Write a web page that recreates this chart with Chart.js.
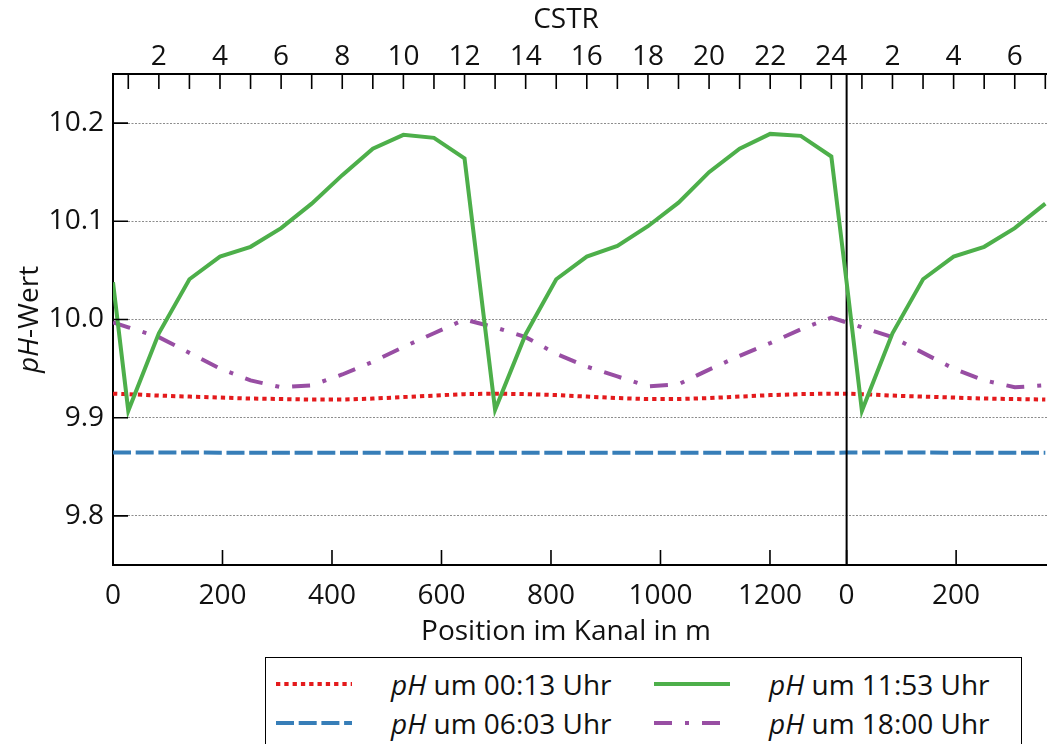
<!DOCTYPE html>
<html lang="de">
<head>
<meta charset="utf-8">
<title>pH-Wert im Kanal</title>
<script src="https://cdn.jsdelivr.net/npm/chart.js@4.4.1/dist/chart.umd.min.js"></script>
<style>
  html, body { margin: 0; padding: 0; background: #fff; }
  #wrap { position: relative; width: 1047px; height: 744px; overflow: hidden; }
  #chart { display: block; }
  #legend {
    position: absolute; left: 265px; top: 657px; width: 757px; height: 120px;
    border: 1.5px solid #000; box-sizing: border-box; background: #fff;
    font-family: 'Open Sans', sans-serif; font-size: 28px; color: #111;
  }
  .lg-item { position: absolute; height: 36px; display: flex; align-items: center; white-space: nowrap; }
  .lg-item svg { display: block; }
  .lg-item span { position: absolute; left: 115px; line-height: 36px; }
</style>
</head>
<body>
<div id="wrap">
  <canvas id="chart" width="1047" height="744"></canvas>
  <div id="legend"></div>
</div>
<script>
// Kanal (Schleife) aus 24 CSTR, Länge in m
const CHANNEL_LENGTH = 1340;
const CSTR_COUNT = 24;
const cstrNumbers = [1, 2, 3, 4, 5, 6, 7, 8, 9, 10, 11, 12, 13, 14, 15, 16, 17, 18, 19, 20, 21, 22, 23, 24];
// nach dem Umlauf beginnt der Kanal wieder bei CSTR 1
const secondPassNumbers = [1, 2, 3, 4, 5, 6, 7];

// Achsenbeschriftungen
const xTickValues = [0, 200, 400, 600, 800, 1000, 1200, 1340, 1540];
const xTickLabels = ['0', '200', '400', '600', '800', '1000', '1200', '0', '200'];
const yTickValues = [9.8, 9.9, 10.0, 10.1, 10.2];
const xTitle = 'Position im Kanal in m';
const xTopTitle = 'CSTR';

// pH-Werte: erster Wert am Einlauf (0 m), danach CSTR 1 ... 24
const ph0013 = [9.9245, 9.924, 9.9225, 9.9215, 9.9205, 9.9195, 9.919, 9.9185, 9.9185, 9.9195, 9.921, 9.9225, 9.924,
                9.9245, 9.924, 9.923, 9.9215, 9.920, 9.919, 9.919, 9.920, 9.9215, 9.923, 9.924, 9.9245];
const ph0603 = [9.8645, 9.8645, 9.8645, 9.8645, 9.8644, 9.8644, 9.8643, 9.8643, 9.8643, 9.8643, 9.8643, 9.8643, 9.8643,
                9.8643, 9.8643, 9.8643, 9.8643, 9.8643, 9.8643, 9.8643, 9.8643, 9.8643, 9.8643, 9.8643, 9.8643];
const ph1153 = [10.038, 9.907, 9.986, 10.041, 10.064, 10.074, 10.093, 10.118, 10.147, 10.174, 10.188, 10.185, 10.164,
                9.908, 9.985, 10.041, 10.064, 10.075, 10.095, 10.119, 10.150, 10.174, 10.189, 10.187, 10.166];
const ph1800 = [9.997, 9.992, 9.982, 9.966, 9.950, 9.938, 9.931, 9.933, 9.944, 9.957, 9.972, 9.986, 10.000,
                9.992, 9.982, 9.965, 9.952, 9.942, 9.932, 9.934, 9.949, 9.963, 9.976, 9.990, 10.002];

const seriesTimes = ['00:13', '06:03', '11:53', '18:00'];

const FONT = "'Open Sans', sans-serif";
const FONT_SIZE = 28;
const TEXT_COLOR = '#111';

const cstrLength = CHANNEL_LENGTH / CSTR_COUNT;
const cstrPosition = n => (n - 0.5) * cstrLength;

// Punkte entlang des Kanals: Einlauf, CSTR 1-24, zweiter Umlauf bis CSTR 7
function channelPoints(values) {
  const pts = [{ x: 0, y: values[0] }];
  cstrNumbers.forEach(n => pts.push({ x: cstrPosition(n), y: values[n] }));
  pts.push({ x: CHANNEL_LENGTH, y: values[0] });
  secondPassNumbers.forEach(n => pts.push({ x: CHANNEL_LENGTH + cstrPosition(n), y: values[n] }));
  return pts;
}

const topTickValues = cstrNumbers.map(cstrPosition)
  .concat(secondPassNumbers.map(n => CHANNEL_LENGTH + cstrPosition(n)));
const topTickLabels = cstrNumbers.concat(secondPassNumbers).map(n => (n % 2 === 0 ? String(n) : ''));

const X_MIN = 0, X_MAX = 1706, Y_MIN = 9.75, Y_MAX = 10.25;

const styles = [
  { color: '#e41a1c', width: 4, dash: [4.3, 4], order: 3 },
  { color: '#377eb8', width: 4, dash: [18, 4.7], order: 4 },
  { color: '#4daf4a', width: 4, dash: [], order: 0 },
  { color: '#984ea3', width: 4, dash: [18, 13, 4, 13], order: 2 }
];
const seriesValues = [ph0013, ph0603, ph1153, ph1800];

const datasets = seriesValues.map((vals, i) => ({
  label: 'pH um ' + seriesTimes[i] + ' Uhr',
  data: channelPoints(vals),
  borderColor: styles[i].color,
  borderWidth: styles[i].width,
  borderDash: styles[i].dash,
  borderCapStyle: 'butt',
  pointRadius: 0,
  tension: 0,
  fill: false,
  order: styles[i].order
}));

// Trennlinie am Ende des Kanals (Übergang CSTR 24 -> CSTR 1)
datasets.push({
  label: 'Kanalende',
  data: [{ x: CHANNEL_LENGTH, y: Y_MIN }, { x: CHANNEL_LENGTH, y: Y_MAX }],
  borderColor: '#000',
  borderWidth: 2,
  pointRadius: 0,
  fill: false,
  order: 1
});

// nach innen zeigende Teilstriche an allen drei Achsen
const innerTicks = {
  id: 'innerTicks',
  afterDraw(chart) {
    const { ctx, chartArea: a, scales } = chart;
    const L = 15;
    ctx.save();
    ctx.strokeStyle = '#000';
    ctx.lineWidth = 1.6;
    ctx.beginPath();
    scales.x.ticks.forEach(t => {
      const px = scales.x.getPixelForValue(t.value);
      ctx.moveTo(px, a.bottom); ctx.lineTo(px, a.bottom - L);
    });
    scales.xTop.ticks.forEach(t => {
      const px = scales.xTop.getPixelForValue(t.value);
      ctx.moveTo(px, a.top); ctx.lineTo(px, a.top + L);
    });
    scales.y.ticks.forEach(t => {
      const py = scales.y.getPixelForValue(t.value);
      ctx.moveTo(a.left, py); ctx.lineTo(a.left + L, py);
    });
    ctx.stroke();
    ctx.restore();
  }
};

// Achsentitel; der y-Titel mit kursivem Formelzeichen
const axisTitles = {
  id: 'axisTitles',
  afterDraw(chart) {
    const { ctx, chartArea: a } = chart;
    const italic = 'italic ' + FONT_SIZE + 'px ' + FONT;
    const normal = FONT_SIZE + 'px ' + FONT;
    const cx = (a.left + a.right) / 2 - 14;
    ctx.save();
    ctx.fillStyle = TEXT_COLOR;
    ctx.textBaseline = 'middle';
    ctx.textAlign = 'center';
    ctx.font = normal;
    ctx.fillText(xTopTitle, cx, 20);
    ctx.fillText(xTitle, cx, a.bottom + 67);

    ctx.font = italic; const w1 = ctx.measureText('pH').width;
    ctx.font = normal; const w2 = ctx.measureText('-Wert').width;
    ctx.translate(30, (a.top + a.bottom) / 2);
    ctx.rotate(-Math.PI / 2);
    ctx.textAlign = 'left';
    const start = -(w1 + w2) / 2;
    ctx.font = italic; ctx.fillText('pH', start, 0);
    ctx.font = normal; ctx.fillText('-Wert', start + w1, 0);
    ctx.restore();
  }
};

function buildLegend() {
  const box = document.getElementById('legend');
  const order = [0, 2, 1, 3];
  const slots = [[10, 8], [388, 8], [10, 47], [388, 47]];
  order.forEach((si, k) => {
    const st = styles[si];
    const item = document.createElement('div');
    item.className = 'lg-item';
    item.style.left = slots[k][0] + 'px';
    item.style.top = slots[k][1] + 'px';
    const ns = 'http://www.w3.org/2000/svg';
    const svg = document.createElementNS(ns, 'svg');
    svg.setAttribute('width', '78'); svg.setAttribute('height', '36');
    const ln = document.createElementNS(ns, 'line');
    ln.setAttribute('x1', '0'); ln.setAttribute('x2', '76');
    ln.setAttribute('y1', '18'); ln.setAttribute('y2', '18');
    ln.setAttribute('stroke', st.color); ln.setAttribute('stroke-width', st.width);
    if (st.dash.length) ln.setAttribute('stroke-dasharray', st.dash.join(' '));
    svg.appendChild(ln);
    item.appendChild(svg);
    const txt = document.createElement('span');
    const it = document.createElement('i');
    it.textContent = 'pH';
    txt.appendChild(it);
    txt.appendChild(document.createTextNode(' um ' + seriesTimes[si] + ' Uhr'));
    item.appendChild(txt);
    box.appendChild(item);
  });
}

function draw() {
  Chart.defaults.font.family = FONT;
  Chart.defaults.font.size = FONT_SIZE;
  Chart.defaults.color = TEXT_COLOR;

  new Chart(document.getElementById('chart'), {
    type: 'line',
    data: { datasets },
    options: {
      responsive: false,
      animation: false,
      events: [],
      layout: { padding: { left: 0, right: 0, top: 0, bottom: 91 } },
      plugins: { legend: { display: false }, tooltip: { enabled: false } },
      scales: {
        x: {
          type: 'linear', position: 'bottom', min: X_MIN, max: X_MAX,
          grid: { display: false, drawTicks: false },
          border: { display: true, color: '#000', width: 2 },
          afterBuildTicks: s => { s.ticks = xTickValues.map(v => ({ value: v })); },
          afterFit: s => { s.height = 88; },
          ticks: {
            autoSkip: false, maxRotation: 0, padding: 14,
            callback: (v, i) => xTickLabels[i]
          },
          title: { display: false }
        },
        xTop: {
          type: 'linear', position: 'top', min: X_MIN, max: X_MAX,
          grid: { display: false, drawTicks: false },
          border: { display: true, color: '#000', width: 2 },
          afterBuildTicks: s => { s.ticks = topTickValues.map(v => ({ value: v })); },
          afterFit: s => { s.height = 74; },
          ticks: {
            autoSkip: false, maxRotation: 0, padding: 0,
            callback: (v, i) => topTickLabels[i]
          },
          title: { display: false }
        },
        y: {
          type: 'linear', position: 'left', min: Y_MIN, max: Y_MAX,
          grid: { display: true, drawTicks: false, color: '#8c8c8c', lineWidth: 1 },
          border: { display: true, color: '#000', width: 2, dash: [2, 1.5] },
          afterBuildTicks: s => { s.ticks = yTickValues.map(v => ({ value: v })); },
          afterFit: s => { s.width = 113; },
          ticks: { padding: 9, callback: v => v.toFixed(1) }
        }
      }
    },
    plugins: [innerTicks, axisTitles]
  });
  buildLegend();
}

Promise.all([
  document.fonts.load(FONT_SIZE + "px 'Open Sans'"),
  document.fonts.load('italic ' + FONT_SIZE + "px 'Open Sans'")
]).then(draw, draw);
</script>
</body>
</html>
